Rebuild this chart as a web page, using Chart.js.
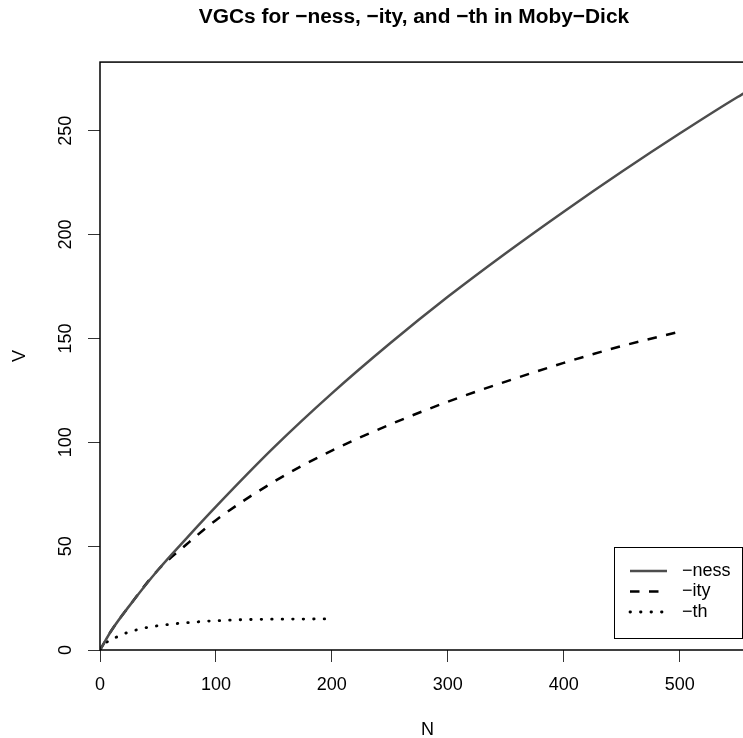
<!DOCTYPE html>
<html>
<head>
<meta charset="utf-8">
<script src="https://cdn.jsdelivr.net/npm/chart.js@4"></script>
<style>
  html, body { margin: 0; padding: 0; background: #fff; overflow: hidden; }
  #wrap { width: 828px; height: 738px; position: relative; }
</style>
</head>
<body>
<div id="wrap"><canvas id="vgc"></canvas></div>
<script>
// vocabulary growth curves: N = tokens seen, V = distinct types
const nessN = [0, 10, 25, 50, 75, 100, 150, 200, 250, 300, 350, 400, 450, 500, 550, 565];
const nessV = [0, 9.5, 21, 38.5, 54, 69, 97.5, 123.5, 147.5, 170, 191, 211, 230.2, 248.6, 266.2, 271];

const ityN = [0, 10, 25, 50, 75, 100, 150, 200, 250, 300, 350, 400, 450, 497];
const ityV = [0, 9.5, 21, 38.5, 51, 62.5, 81, 96, 108.5, 119.5, 129.2, 138.2, 146.3, 152.8];

const thN = [0, 7, 16, 24, 34, 43, 52, 61, 71, 80, 89, 98, 117, 145, 175, 202];
const thV = [0, 4.3, 6.6, 8.5, 10, 11.1, 11.8, 12.4, 13, 13.3, 13.8, 14, 14.5, 14.8, 14.9, 15];

const seriesLabels = ['\u2212ness', '\u2212ity', '\u2212th'];
const xTicks = [0, 100, 200, 300, 400, 500];
const yTicks = [0, 50, 100, 150, 200, 250];

const toPoints = (xs, ys) => xs.map((n, i) => ({ x: n, y: ys[i] }));

Chart.defaults.font.family = '"Liberation Sans", Arial, Helvetica, sans-serif';
Chart.defaults.font.size = 18;
Chart.defaults.color = '#000';

// plot frame (R style box)
const frame = {
  id: 'frame',
  afterDraw(chart) {
    const { ctx, chartArea: a } = chart;
    ctx.save();
    ctx.strokeStyle = '#000';
    ctx.lineWidth = 1.5;
    ctx.strokeRect(a.left, a.top, a.right - a.left, a.bottom - a.top);
    ctx.restore();
  }
};

// legend drawn inside the plot, anchored at data coordinates
const boxLegend = {
  id: 'boxLegend',
  afterDraw(chart, args, opts) {
    const { ctx, scales } = chart;
    const left = Math.round(scales.x.getPixelForValue(opts.x));
    const top = Math.round(scales.y.getPixelForValue(opts.y));
    ctx.save();
    ctx.fillStyle = '#fff';
    ctx.fillRect(left, top, opts.width, opts.height);
    ctx.strokeStyle = '#000';
    ctx.lineWidth = 1;
    ctx.strokeRect(left + 0.5, top + 0.5, opts.width, opts.height);
    chart.data.datasets.forEach((ds, i) => {
      const y = top + opts.firstRow + i * opts.rowGap;
      ctx.beginPath();
      ctx.strokeStyle = ds.borderColor;
      ctx.lineWidth = ds.borderWidth;
      ctx.lineCap = ds.borderCapStyle || 'butt';
      ctx.setLineDash(ds.borderDash || []);
      ctx.moveTo(left + 16, y);
      ctx.lineTo(left + 53, y);
      ctx.stroke();
      ctx.setLineDash([]);
      ctx.fillStyle = '#000';
      ctx.font = '18px "Liberation Sans", Arial, sans-serif';
      ctx.textBaseline = 'middle';
      ctx.fillText(ds.label, left + 68, y);
    });
    ctx.restore();
  }
};

new Chart(document.getElementById('vgc'), {
  type: 'line',
  data: {
    datasets: [
      {
        label: seriesLabels[0],
        data: toPoints(nessN, nessV),
        borderColor: '#4d4d4d',
        borderWidth: 2.5
      },
      {
        label: seriesLabels[1],
        data: toPoints(ityN, ityV),
        borderColor: '#000',
        borderWidth: 2.5,
        borderDash: [9.5, 9.5]
      },
      {
        label: seriesLabels[2],
        data: toPoints(thN, thV),
        borderColor: '#000',
        borderWidth: 2.8,
        borderDash: [0.5, 10],
        borderCapStyle: 'round'
      }
    ]
  },
  options: {
    responsive: true,
    maintainAspectRatio: false,
    animation: false,
    layout: { padding: 0 },
    elements: {
      point: { radius: 0 },
      line: { cubicInterpolationMode: 'monotone', fill: false }
    },
    plugins: {
      legend: { display: false },
      tooltip: { enabled: false },
      title: {
        display: true,
        text: 'VGCs for \u2212ness, \u2212ity, and \u2212th in Moby\u2212Dick',
        font: { size: 20.9, weight: 'bold' },
        color: '#000',
        padding: { top: 5, bottom: 32 }
      },
      boxLegend: { x: 443, y: 49.6, width: 128, height: 91, firstRow: 24, rowGap: 20.5 }
    },
    scales: {
      x: {
        type: 'linear',
        min: 0,
        max: 565,
        afterFit: s => { s.height = 88; },
        afterBuildTicks: s => { s.ticks = xTicks.map(v => ({ value: v })); },
        ticks: { padding: 12, maxRotation: 0 },
        grid: { drawOnChartArea: false, tickLength: 12, tickColor: '#333', tickWidth: 1 },
        border: { display: false },
        title: { display: true, text: 'N', font: { size: 18, lineHeight: 0.9 }, padding: { top: 0, bottom: 0 } }
      },
      y: {
        min: 0,
        max: 283,
        afterFit: s => { s.width = 100; },
        afterBuildTicks: s => { s.ticks = yTicks.map(v => ({ value: v })); },
        ticks: { padding: 7, minRotation: 90, maxRotation: 90, crossAlign: 'center' },
        grid: { drawOnChartArea: false, tickLength: 12, tickColor: '#333', tickWidth: 1 },
        border: { display: false },
        title: { display: true, text: 'V', font: { size: 18 }, padding: { top: 9, bottom: 0 } }
      },
      // empty right-hand gutter so the plot area ends where the page is cut
      yr: {
        position: 'right',
        display: true,
        afterFit: s => { s.width = 73; },
        ticks: { display: false },
        grid: { display: false },
        border: { display: false }
      }
    }
  },
  plugins: [frame, boxLegend]
});
</script>
</body>
</html>
